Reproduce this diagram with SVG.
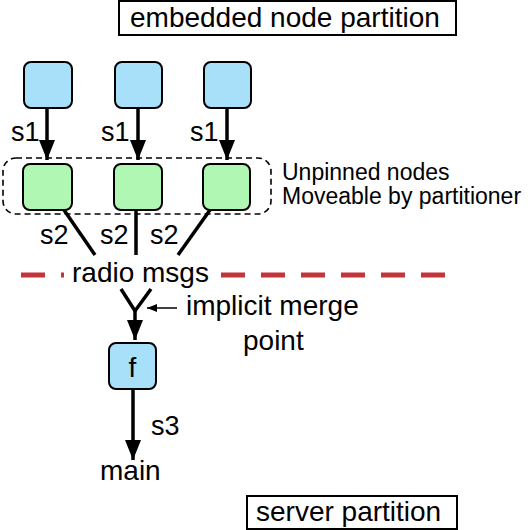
<svg xmlns="http://www.w3.org/2000/svg" width="528" height="530" viewBox="0 0 528 530">
<defs>
<style>
text{font-family:"Liberation Sans",Arial,sans-serif;fill:#000}
.lbl{font-size:28px}
.sm{font-size:27px}
.note{font-size:23px}
.blue{fill:#a8dff9;stroke:#000;stroke-width:2}
.green{fill:#b0f7b4;stroke:#000;stroke-width:2}
.edge{stroke:#000;stroke-width:3.5;fill:none}
.box{fill:#fff;stroke:#000;stroke-width:2}
</style>
<marker id="ah" viewBox="0 0 20 16" refX="20" refY="8" markerUnits="userSpaceOnUse" markerWidth="20" markerHeight="16" orient="auto">
<path d="M0,0 L20,8 L0,16 Z" fill="#000"/>
</marker>
<marker id="sah" viewBox="0 0 10 8" refX="10" refY="4" markerUnits="userSpaceOnUse" markerWidth="10" markerHeight="8" orient="auto">
<path d="M0,0 L10,4 L0,8 Z" fill="#000"/>
</marker>
</defs>

<g id="embedded-partition-label">
<rect class="box" x="119" y="1" width="337" height="34"/>
<text class="lbl" x="130" y="27">embedded node partition</text>
</g>

<g id="unpinned-group">
<rect x="3" y="158" width="268" height="56" rx="13" fill="none" stroke="#000" stroke-width="1.6" stroke-dasharray="6 4"/>
<text class="note" x="282" y="180">Unpinned nodes</text>
<text class="note" x="282" y="204">Moveable by partitioner</text>
</g>

<g id="src1"><rect class="blue" x="24" y="62" width="48" height="46" rx="7"/></g>
<g id="src2"><rect class="blue" x="115" y="62" width="47" height="46" rx="7"/></g>
<g id="src3"><rect class="blue" x="204" y="62" width="47" height="46" rx="7"/></g>

<g id="mid1"><rect class="green" x="23" y="164" width="49" height="46" rx="7"/></g>
<g id="mid2"><rect class="green" x="114" y="164" width="48" height="46" rx="7"/></g>
<g id="mid3"><rect class="green" x="203" y="164" width="47" height="46" rx="7"/></g>

<g id="boundary">
<line x1="21" y1="275" x2="450" y2="275" stroke="#c0343a" stroke-width="5" stroke-dasharray="24 16"/>
<rect x="64" y="262" width="157" height="26" fill="#fff"/>
<text class="lbl" x="72" y="282">radio msgs</text>
</g>

<g id="f">
<rect class="blue" x="109" y="343" width="47" height="46" rx="7"/>
<text class="lbl" x="132.5" y="377" text-anchor="middle">f</text>
</g>

<g id="main"><text class="lbl" x="100" y="480">main</text></g>

<g id="merge-note">
<text class="lbl" x="186" y="315">implicit merge</text>
<text class="lbl" x="243" y="350">point</text>
</g>

<g id="server-partition-label">
<rect class="box" x="247" y="496" width="210" height="33"/>
<text class="lbl" x="256" y="521">server partition</text>
</g>

<g id="connectors">
<line class="edge" x1="47" y1="108" x2="47" y2="160" marker-end="url(#ah)"/>
<line class="edge" x1="138" y1="108" x2="138" y2="160" marker-end="url(#ah)"/>
<line class="edge" x1="227" y1="108" x2="227" y2="160" marker-end="url(#ah)"/>
<text class="sm" x="11" y="141">s1</text>
<text class="sm" x="101" y="141">s1</text>
<text class="sm" x="190" y="141">s1</text>

<line class="edge" x1="64" y1="210" x2="95" y2="255"/>
<line class="edge" x1="136" y1="210" x2="136" y2="255"/>
<line class="edge" x1="210" y1="210" x2="178" y2="255"/>
<text class="sm" x="40" y="244">s2</text>
<text class="sm" x="100" y="244">s2</text>
<text class="sm" x="150" y="244">s2</text>

<polyline class="edge" points="121,289 135,311 151,289"/>
<line class="edge" x1="135" y1="309" x2="135" y2="340" marker-end="url(#ah)"/>
<line x1="177" y1="308" x2="147" y2="308" stroke="#000" stroke-width="1.5" marker-end="url(#sah)"/>

<line class="edge" x1="133" y1="389" x2="133" y2="460" marker-end="url(#ah)"/>
<text class="sm" x="151" y="435">s3</text>
</g>
</svg>
